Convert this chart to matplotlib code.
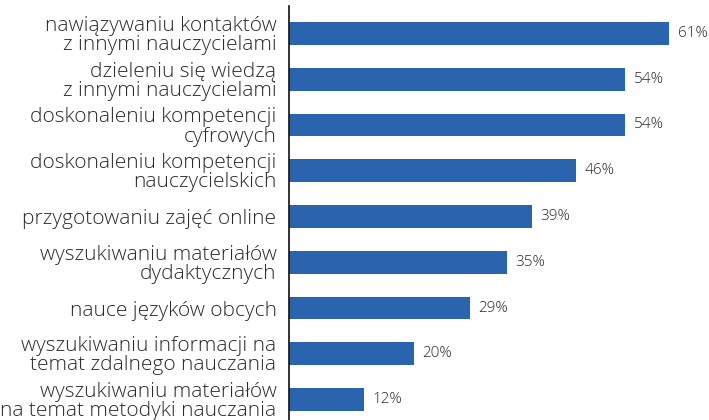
import matplotlib
matplotlib.use("Agg")
from matplotlib import pyplot as plt

kategorie = ["nawiązywaniu kontaktów\nz innymi nauczycielami",
             "dzieleniu się wiedzą\nz innymi nauczycielami",
             "doskonaleniu kompetencji\ncyfrowych",
             "doskonaleniu kompetencji\nnauczycielskich",
             "przygotowaniu zajęć online",
             "wyszukiwaniu materiałów\ndydaktycznych",
             "nauce języków obcych",
             "wyszukiwaniu informacji na\ntemat zdalnego nauczania",
             "wyszukiwaniu materiałów\nna temat metodyki nauczania"]
wartosci = [61, 54, 54, 46, 39, 35, 29, 20, 12]

plt.rcParams['font.family'] = ['Open Sans', 'DejaVu Sans']
kolor = '#2a64ae'
tekst = '#2a2a2a'

fig = plt.figure(figsize=(7.09, 4.2), dpi=100)
ax = fig.add_axes([289/709, 0, 420/709, 414/420])

y = list(range(len(wartosci)))
ax.barh(y, wartosci, height=0.5, color=kolor)
ax.set_xlim(0, 420/6.23)
ax.set_ylim(8.448, -0.601)

for i, v in enumerate(wartosci):
    ax.text(v + 1.4, i, '%d%%' % v, va='center', ha='left', fontsize=11,
            color=tekst, fontweight=300)

ax.set_yticks(y)
ax.set_yticklabels(kategorie, fontsize=15, color=tekst, linespacing=0.94,
                   fontweight=300)
ax.tick_params(axis='y', length=0, pad=9)
ax.set_xticks([])
for s in ['top', 'right', 'bottom']:
    ax.spines[s].set_visible(False)
ax.spines['left'].set_linewidth(1.2)
ax.spines['left'].set_color('#111111')

fig.savefig('out.png', dpi=100)
